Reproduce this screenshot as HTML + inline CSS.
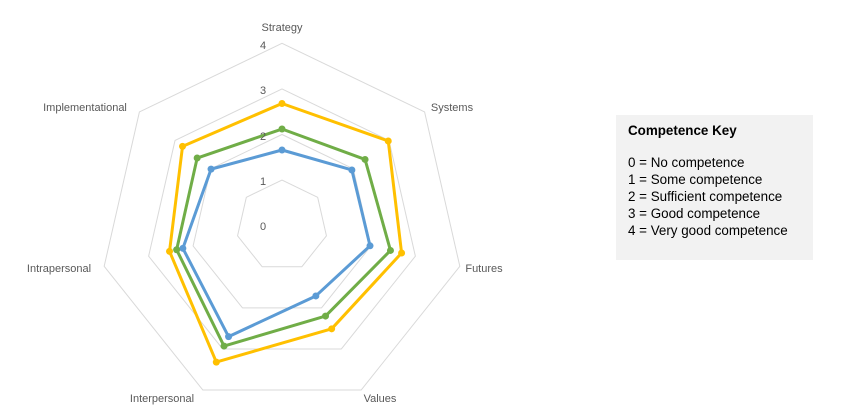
<!DOCTYPE html>
<html><head><meta charset="utf-8"><style>
html,body{margin:0;padding:0;background:#fff;width:850px;height:420px;overflow:hidden}
svg{display:block}
.ax{font-family:"Liberation Sans",sans-serif;font-size:11px;fill:#595959}
.k{font-family:"Liberation Sans",sans-serif;font-size:13.4px;fill:#000}
</style></head><body>
<svg id="s" width="850" height="420" xmlns="http://www.w3.org/2000/svg">
<g id="g"></g>
<text class="ax" x="282" y="31" text-anchor="middle">Strategy</text>
<text class="ax" x="452" y="111" text-anchor="middle">Systems</text>
<text class="ax" x="484" y="272" text-anchor="middle">Futures</text>
<text class="ax" x="380" y="402" text-anchor="middle">Values</text>
<text class="ax" x="162" y="402" text-anchor="middle">Interpersonal</text>
<text class="ax" x="59" y="272" text-anchor="middle">Intrapersonal</text>
<text class="ax" x="85" y="111" text-anchor="middle">Implementational</text>
<text class="ax" x="263" y="49" text-anchor="middle">4</text>
<text class="ax" x="263" y="94" text-anchor="middle">3</text>
<text class="ax" x="263" y="140" text-anchor="middle">2</text>
<text class="ax" x="263" y="185" text-anchor="middle">1</text>
<text class="ax" x="263" y="230" text-anchor="middle">0</text>
<rect x="616" y="115" width="197" height="145" fill="#f2f2f2"/>
<text class="k" x="628" y="135" font-weight="bold">Competence Key</text>
<text class="k" x="628" y="167">0 = No competence</text>
<text class="k" x="628" y="184">1 = Some competence</text>
<text class="k" x="628" y="201">2 = Sufficient competence</text>
<text class="k" x="628" y="218">3 = Good competence</text>
<text class="k" x="628" y="235">4 = Very good competence</text>
</svg>
<script>
var cx=282,cy=225.7,u=45.6,g=document.getElementById('g'),ns='http://www.w3.org/2000/svg';
function pt(i,v){var a=i*2*Math.PI/7;return [cx+Math.sin(a)*v*u,cy-Math.cos(a)*v*u];}
function poly(vals,stroke,w){var p=vals.map(function(v,i){return pt(i,v).join(',')}).join(' ');
var e=document.createElementNS(ns,'polygon');e.setAttribute('points',p);e.setAttribute('fill','none');
e.setAttribute('stroke',stroke);e.setAttribute('stroke-width',w);e.setAttribute('stroke-linejoin','round');g.appendChild(e);}
for(var r=1;r<=4;r++)poly([r,r,r,r,r,r,r],'#d9d9d9',1);
var S=[[1.66,1.96,1.98,1.71,2.7,2.23,1.99,'#5b9bd5'],[2.12,2.33,2.44,2.2,2.93,2.37,2.38,'#70ad47'],[2.68,2.98,2.69,2.51,3.32,2.53,2.79,'#ffc000']];
S.forEach(function(s){var c=s[7],v=s.slice(0,7);poly(v,c,3);v.forEach(function(x,i){var p=pt(i,x);var e=document.createElementNS(ns,'circle');
e.setAttribute('cx',p[0]);e.setAttribute('cy',p[1]);e.setAttribute('r',3.5);e.setAttribute('fill',c);g.appendChild(e);});});
</script>
</body></html>
